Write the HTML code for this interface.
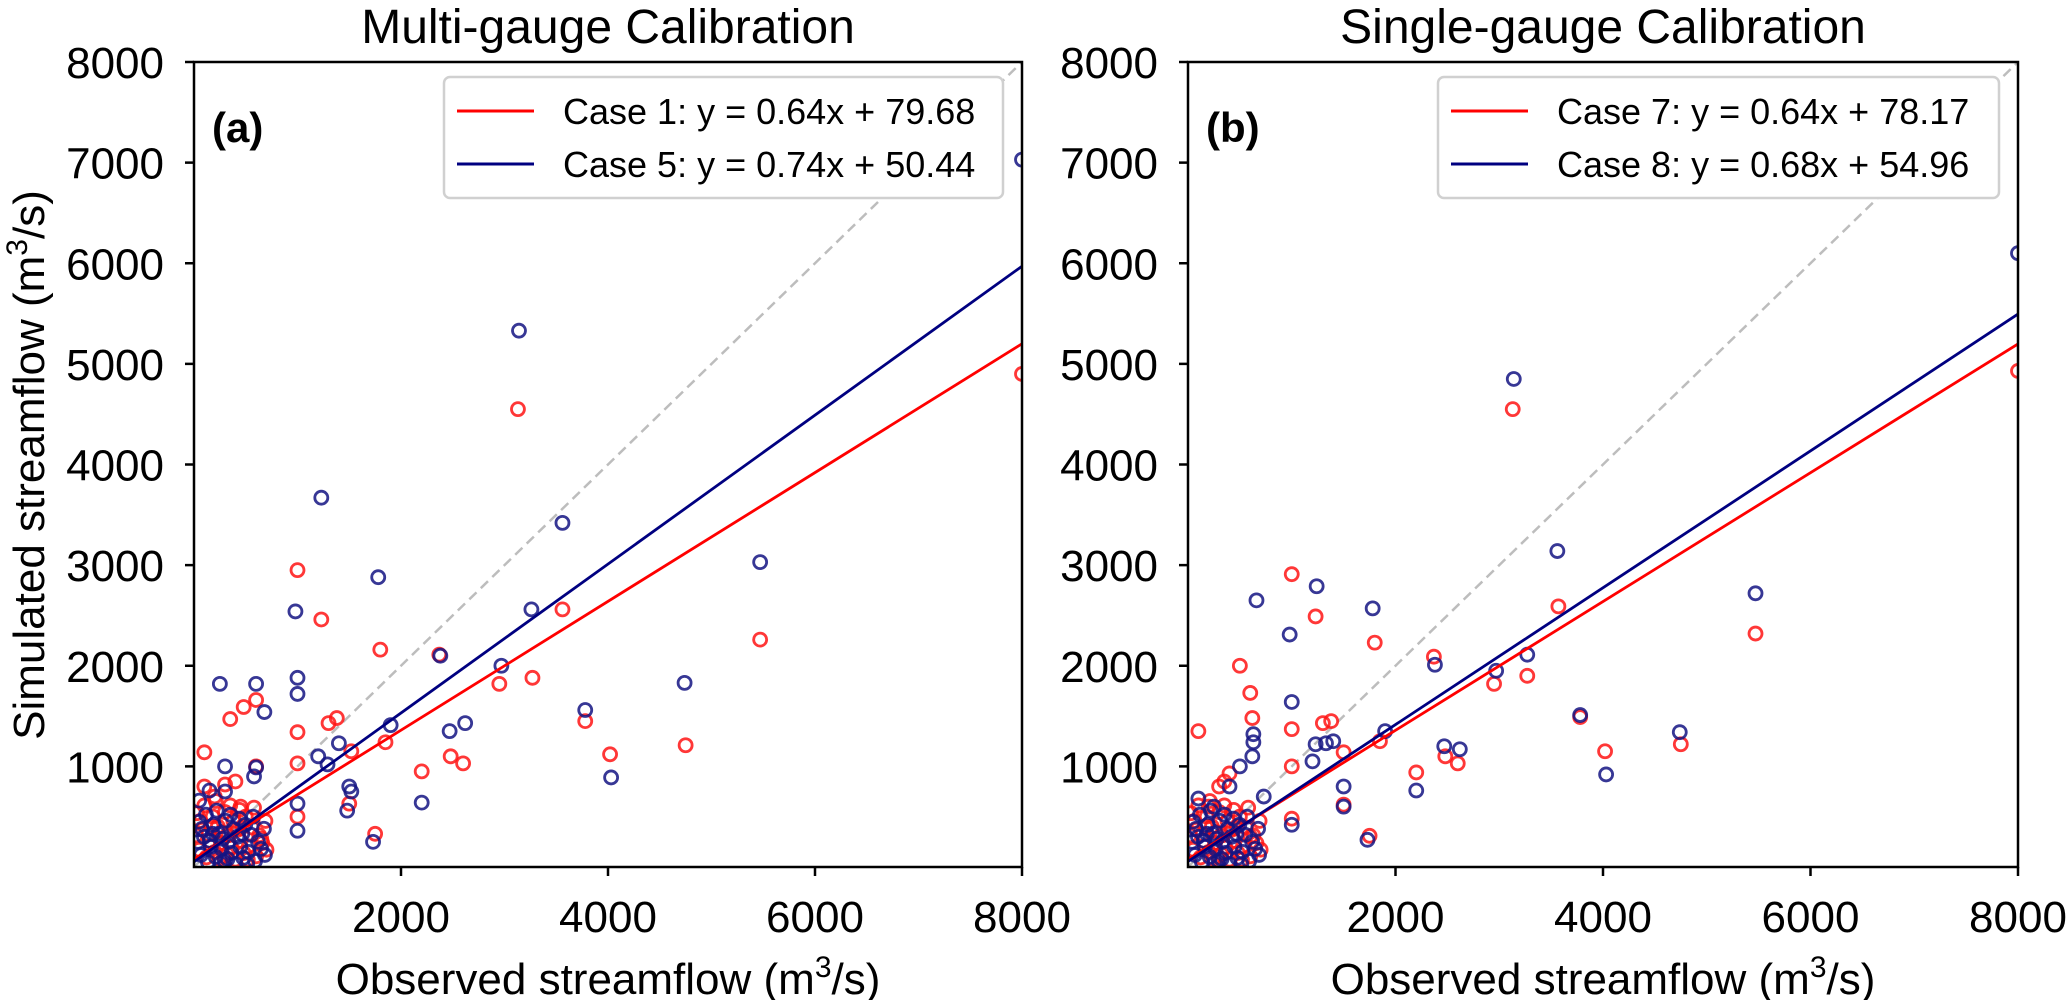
<!DOCTYPE html>
<html><head><meta charset="utf-8"><style>
html,body{margin:0;padding:0;background:#fff}
svg{display:block;font-family:"Liberation Sans",Arial,sans-serif}
</style></head><body>
<svg id="chart" width="2067" height="1000" viewBox="0 0 2067 1000"></svg>
<script>
const ticksX = [2000, 4000, 6000, 8000];
const ticksY = [1000, 2000, 3000, 4000, 5000, 6000, 7000, 8000];
const titles = ["Multi-gauge Calibration", "Single-gauge Calibration"];
const panelLabels = ["(a)", "(b)"];
const legendA = ["Case 1: y = 0.64x + 79.68", "Case 5: y = 0.74x + 50.44"];
const legendB = ["Case 7: y = 0.64x + 78.17", "Case 8: y = 0.68x + 54.96"];
const slopesA = [0.64, 0.74], interceptsA = [79.68, 50.44];
const slopesB = [0.64, 0.68], interceptsB = [78.17, 54.96];
const cluster = [[50,120],[80,300],[120,50],[150,200],[180,420],[200,100],[230,330],[260,180],[290,60],[300,460],[330,250],[360,140],[380,380],[400,30],[420,300],[450,200],[480,90],[500,420],[530,150],[560,320],[600,60],[630,250],[660,180],[690,380],[30,450],[100,520],[210,560],[140,260],[250,40],[350,520],[440,480],[520,30],[580,500],[700,120],[20,250],[60,380],[170,330],[270,280],[320,80],[470,330]];
const redA = [[8000,4900],[3130,4550],[5470,2260],[3560,2560],[1000,2950],[1230,2460],[1800,2160],[2370,2110],[2950,1820],[3270,1880],[1850,1240],[2480,1100],[2600,1030],[2200,950],[4020,1120],[4750,1210],[3780,1450],[1000,1340],[1300,1430],[1380,1480],[1000,1030],[1500,630],[1520,1150],[1750,330],[600,1660],[480,1590],[350,1470],[100,1140],[400,850],[300,820],[100,800],[600,1000],[1000,500],[650,280],[200,700],[450,600]];
const blueA = [[8000,7030],[3140,5330],[1230,3670],[3560,3420],[1780,2880],[5470,3030],[980,2540],[3260,2560],[2380,2100],[2970,2000],[4740,1830],[3780,1560],[4030,890],[2470,1350],[2620,1430],[1900,1410],[1000,1880],[1000,1720],[600,1820],[250,1820],[680,1540],[1400,1230],[1200,1100],[1290,1020],[1500,800],[1520,750],[1480,560],[2200,640],[1730,250],[1000,630],[1000,360],[600,990],[300,1000],[150,760],[50,660],[580,900],[300,750]];
const redB = [[8000,4930],[3130,4550],[5470,2320],[3570,2590],[1000,2910],[1230,2490],[1800,2230],[2370,2090],[2950,1820],[3270,1900],[1850,1250],[2480,1100],[2600,1030],[2200,940],[4020,1150],[4750,1220],[3780,1490],[1000,1370],[1300,1430],[1380,1450],[1000,1000],[1500,620],[1500,1140],[1750,310],[500,2000],[600,1730],[620,1480],[100,1350],[400,930],[300,800],[350,850],[1000,480],[600,300],[200,600]];
const blueB = [[8000,6100],[3140,4850],[3560,3140],[1240,2790],[1780,2570],[5470,2720],[660,2650],[980,2310],[2380,2010],[2970,1950],[3270,2110],[4740,1340],[3780,1510],[4030,920],[2470,1200],[2620,1170],[1900,1350],[1000,1640],[630,1320],[630,1240],[620,1100],[1230,1220],[1330,1230],[1400,1250],[1200,1050],[1500,800],[1500,600],[2200,760],[1730,270],[1000,420],[730,700],[500,1000],[400,800],[100,680],[250,600]];

const NS = "http://www.w3.org/2000/svg";
const svgRoot = document.getElementById("chart");
function mk(tag, attrs, parent) {
  const e = document.createElementNS(NS, tag);
  for (const k in attrs) e.setAttribute(k, attrs[k]);
  (parent || svgRoot).appendChild(e);
  return e;
}
const plotTop = 62, plotBottom = 867;
const yScale = v => plotBottom - v / 8000 * (plotBottom - plotTop);

function panel(left, right, title, plabel, legend, slopes, intercepts, red, blue, key) {
  const xScale = v => left + v / 8000 * (right - left);
  const g = mk("g", {});
  
  
  const cx = (left + right) / 2;
  const t = mk("text", {x: cx, y: 43, "text-anchor": "middle", "font-size": 48}, g);
  t.textContent = title;
  
  
  const d = mk("line", {x1: xScale(0), y1: yScale(0), x2: xScale(8000), y2: yScale(8000), stroke: "#bdbdbd", "stroke-width": 2.5, "stroke-dasharray": "10,6"}, g);
  
  
  const clip = mk("clipPath", {id: "clip" + key}, g);
  mk("rect", {x: left, y: plotTop, width: right - left, height: plotBottom - plotTop}, clip);
  const pts = mk("g", {"clip-path": "url(#clip" + key + ")"}, g);
  
  
  const series = [[red.concat(cluster.map(p => [p[0], p[1] * 1.1 + 40])), "rgba(255,20,20,0.85)", "red"],
                  [blue.concat(cluster.map(p => [p[0] * 0.95 + 20, p[1]])), "rgba(20,20,130,0.85)", "blue"]];
  series.forEach(s => {
    s[0].forEach(p => {
      const c = mk("circle", {cx: xScale(p[0]), cy: yScale(p[1]), r: 6.5, fill: "none", stroke: s[1], "stroke-width": 2.8}, pts);
      
      
    });
  });
  const colors = ["#ff0000", "#000080"];
  slopes.forEach((m, i) => {
    const l = mk("line", {x1: xScale(0), y1: yScale(intercepts[i]), x2: xScale(8000), y2: yScale(m * 8000 + intercepts[i]), stroke: colors[i], "stroke-width": 2.8}, pts);
    
    
  });
  const fr = mk("rect", {x: left, y: plotTop, width: right - left, height: plotBottom - plotTop, fill: "none", stroke: "#000", "stroke-width": 2.5}, g);
  
  
  ticksX.forEach(v => {
    const x = xScale(v);
    mk("line", {x1: x, y1: plotBottom, x2: x, y2: plotBottom + 9, stroke: "#000", "stroke-width": 2.5}, g);
    const tl = mk("text", {x: x, y: 932, "text-anchor": "middle", "font-size": 44}, g);
    tl.textContent = v;
    
    
  });
  ticksY.forEach(v => {
    const y = yScale(v);
    mk("line", {x1: left - 9, y1: y, x2: left, y2: y, stroke: "#000", "stroke-width": 2.5}, g);
    const tl = mk("text", {x: left - 30, y: y + 16, "text-anchor": "end", "font-size": 44}, g);
    tl.textContent = v;
    
    
  });
  const xl = mk("text", {x: cx, y: 994, "text-anchor": "middle", "font-size": 44}, g);
  xl.innerHTML = 'Observed streamflow (m<tspan dy="-17" font-size="30">3</tspan><tspan dy="17">/s)</tspan>';
  
  
  const pl = mk("text", {x: left + 18, y: 142, "font-size": 42, "font-weight": "bold"}, g);
  pl.textContent = plabel;
  
  
  const lg = mk("g", {}, g);
  
  
  const lx = left + 250;
  mk("rect", {x: lx, y: 77, width: right - lx - 19, height: 121, rx: 6, fill: "#fff", stroke: "#d0d0d0", "stroke-width": 2.5}, lg);
  legend.forEach((txt, i) => {
    const y = 111 + i * 53;
    mk("line", {x1: lx + 13, y1: y, x2: lx + 90, y2: y, stroke: colors[i], "stroke-width": 3}, lg);
    const tx = mk("text", {x: lx + 119, y: y + 13, "font-size": 36}, lg);
    tx.textContent = txt;
    
    
  });
}
panel(194, 1022, titles[0], panelLabels[0], legendA, slopesA, interceptsA, redA, blueA, "a");
panel(1188, 2018, titles[1], panelLabels[1], legendB, slopesB, interceptsB, redB, blueB, "b");
const yl = mk("text", {x: 0, y: 0, "text-anchor": "middle", "font-size": 44, transform: "translate(44,465) rotate(-90)"});
yl.innerHTML = 'Simulated streamflow (m<tspan dy="-17" font-size="30">3</tspan><tspan dy="17">/s)</tspan>';


</script>
</body></html>
